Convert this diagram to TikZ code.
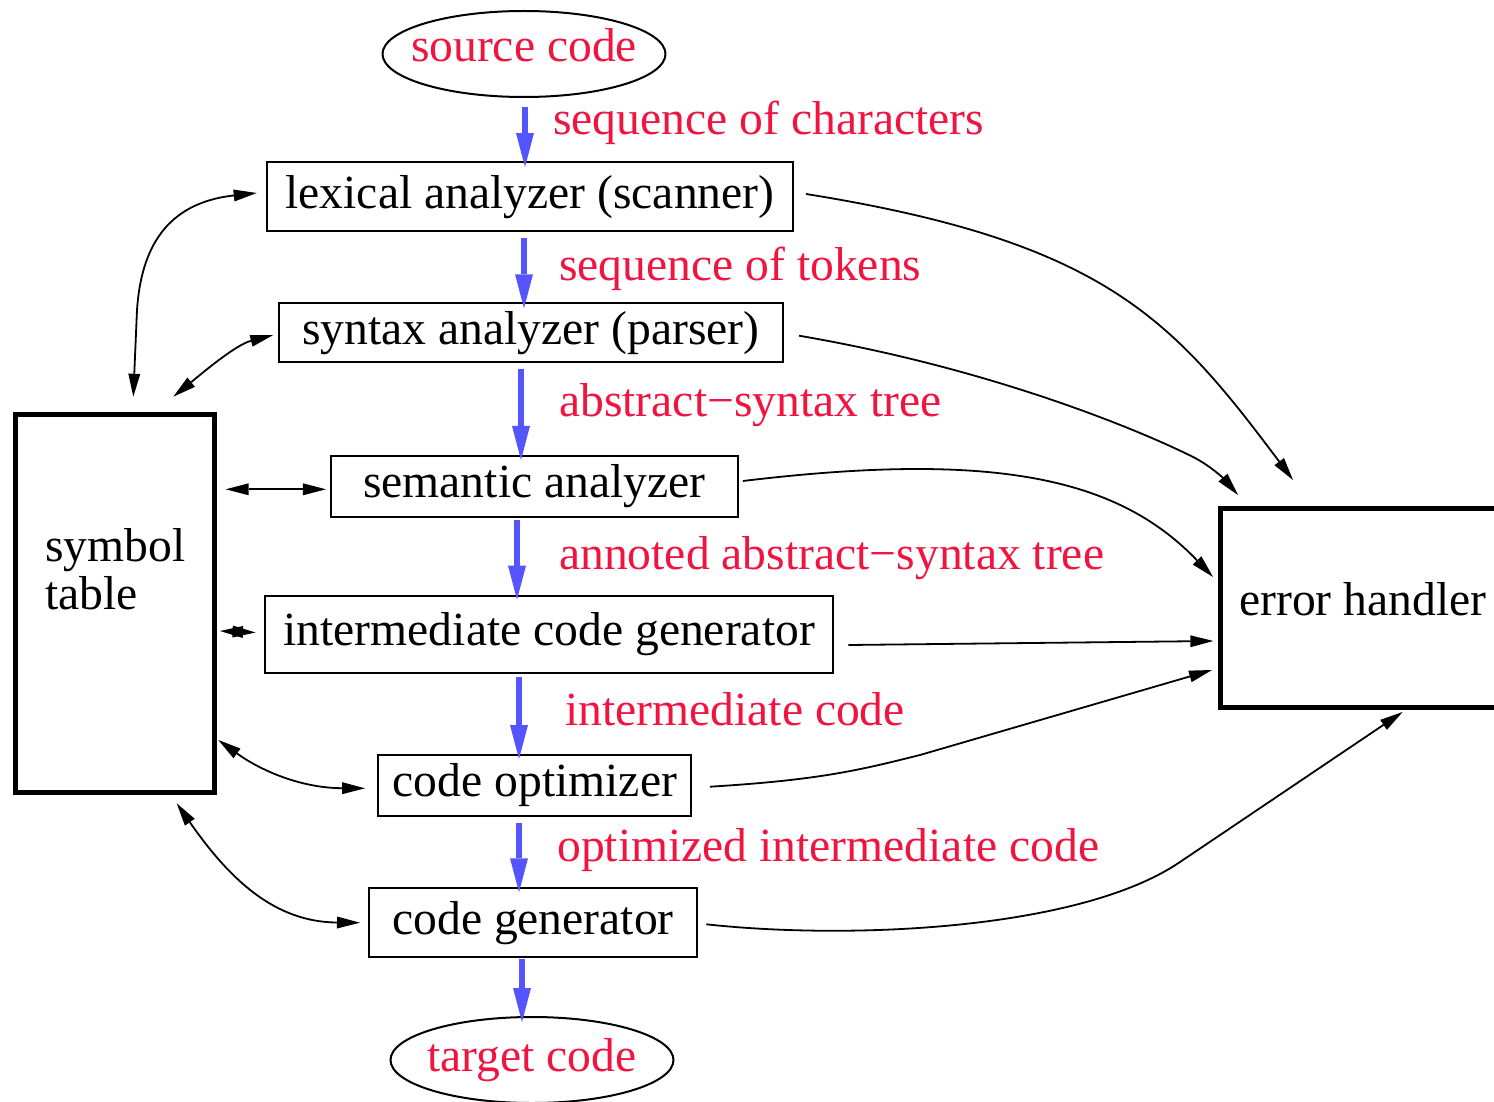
\documentclass[tikz,border=0pt]{standalone}
\usepackage{fontspec}
\setmainfont{Liberation Serif}
\usetikzlibrary{arrows.meta,shapes.geometric,calc}
\definecolor{labelred}{RGB}{240,20,65}
\definecolor{flowblue}{RGB}{85,85,255}
\tikzset{
  phase/.style={draw, line width=2pt, rectangle, inner sep=0pt, outer sep=0pt,
    text height=32pt, text depth=9pt},
  bigbox/.style={draw, line width=5pt, rectangle, inner sep=0pt, outer sep=0pt,
    text height=32pt, text depth=9pt},
  endpoint/.style={draw, line width=2pt, ellipse, inner xsep=-13pt, inner ysep=0pt,
    outer sep=0pt, text=labelred, text height=32pt, text depth=9pt,
    minimum width=283pt, minimum height=86pt},
  flow/.style={draw=flowblue, line width=6pt,
    -{Triangle[length=34pt,width=18pt,line width=0pt]}},
  link/.style={line width=1.8pt, -{Triangle[length=23pt,width=12pt,line width=0pt]}},
  biglink/.style={line width=1.8pt,
    {Triangle[length=23pt,width=12pt,line width=0pt]}-{Triangle[length=23pt,width=12pt,line width=0pt]}},
  stage/.style={text=labelred, anchor=base west, inner sep=0pt},
}
\begin{document}
\begin{tikzpicture}[x=1pt,y=-1pt,font=\fontsize{47.6pt}{47.6pt}\selectfont]
\useasboundingbox (0,0) rectangle (1494,1102);

% compiler phases
\node[endpoint, text depth=17pt] (src) at (524,54) {source code};
\node[phase, minimum width=526.6pt, minimum height=68.7pt] (lex) at (530,196.7) {lexical analyzer (scanner)};
\node[phase, minimum width=504pt, minimum height=59.6pt] (syn) at (531,332.5) {syntax analyzer (parser)};
\node[phase, minimum width=406.7pt, minimum height=60.7pt] (sem) at (534.3,486.3) {semantic analyzer};
\node[phase, minimum width=568.3pt, minimum height=77pt] (inter) at (549.2,634.2) {intermediate code generator};
\node[phase, minimum width=313pt, minimum height=60.7pt] (opt) at (534.9,785.4) {code optimizer};
\node[phase, minimum width=328pt, minimum height=68.4pt] (gen) at (533,922.5) {code generator};
\node[endpoint] (tgt) at (532,1060) {target code};

% side components
\node[bigbox, minimum width=199pt, minimum height=378.5pt] (sym) at (115.3,603.25) {};
\node[anchor=base west, align=left, inner sep=0pt] (symtext) at (45,609.3) {symbol\\table};
\node[bigbox, text depth=17pt, minimum width=284.5pt, minimum height=199pt] (err) at (1362.75,607.5) {error handler};

% data passed between phases
\node[stage] (l1) at (553,135) {sequence of characters};
\node[stage] (l2) at (559,280) {sequence of tokens};
\node[stage] (l3) at (559,416.7) {abstract−syntax tree};
\node[stage] (l4) at (559,569) {annoted abstract−syntax tree};
\node[stage] (l5) at (565,725) {intermediate code};
\node[stage] (l6) at (557,861.7) {optimized intermediate code};

\draw[flow] ($(src.south)+(1,10)$) -- ($(lex.north)+(-5,4.7)$);
\draw[flow] ($(lex.south)+(-6,7.3)$) -- ($(syn.north)+(-7,5.6)$);
\draw[flow] ($(syn.south)+(-10,6.7)$) -- ($(sem.north)+(-13.3,4)$);
\draw[flow] ($(sem.south)+(-17.3,3.3)$) -- ($(inter.north)+(-32.2,4)$);
\draw[flow] ($(inter.south)+(-30.2,4.3)$) -- ($(opt.north)+(-15.9,4)$);
\draw[flow] ($(opt.south)+(-15.9,7.3)$) -- ($(gen.north)+(-14,4)$);
\draw[flow] ($(gen.south)+(-11,2.3)$) -- ($(tgt.north)+(-10,5)$);

% symbol table access
\draw[biglink] ($(sym.north west)+(117.5,-17.3)$) -- (137,310)
  .. controls (141,250) and (165,203) .. ($(lex.west)+(-10,-3.7)$);
\draw[biglink] ($(sym.north west)+(157.5,-17.3)$)
  .. controls (200,375) and (235,345) .. ($(syn.west)+(-5.7,2.5)$);
\draw[biglink] ($(sym.north east)+(10.9,75.3)$) -- ($(sem.west)+(-5,3)$);
\draw[biglink] ($(sym.north east)+(5.2,217)$) -- ($(inter.west)+(-9.5,-1.7)$);
\draw[biglink] ($(sym.north east)+(3.5,326)$)
  .. controls (260,770) and (300,788) .. ($(opt.west)+(-13.3,2.9)$);
\draw[biglink] ($(sym.south west)+(160.9,10.8)$)
  .. controls (230,880) and (275,922) .. ($(gen.west)+(-9,0.2)$);

% error reporting
\draw[link] ($(lex.east)+(12.7,-2.7)$)
  .. controls (1106,242) and (1173,320) .. ($(err.north west)+(72.5,-28)$);
\draw[link] ($(syn.east)+(16,3.2)$)
  .. controls (1000,370) and (1150,435) .. (1195,458)
  .. controls (1212,467) and (1225,480) .. ($(err.north west)+(17.5,-13)$);
\draw[link] ($(sem.east)+(5.3,-5.3)$)
  .. controls (1000,450) and (1120,480) .. ($(err.north west)+(-7.5,69)$);
\draw[link] ($(inter.east)+(15,10.8)$) -- ($(err.north west)+(-7.2,133)$);
\draw[link] ($(opt.east)+(18.6,1.3)$)
  .. controls (820,780) and (860,770) .. (920,755) -- ($(err.north west)+(-8.5,162)$);
\draw[link] ($(gen.east)+(9.3,1.8)$)
  .. controls (850,940) and (1080,930) .. (1180,862) -- ($(err.south west)+(182.1,5)$);
\end{tikzpicture}
\end{document}
